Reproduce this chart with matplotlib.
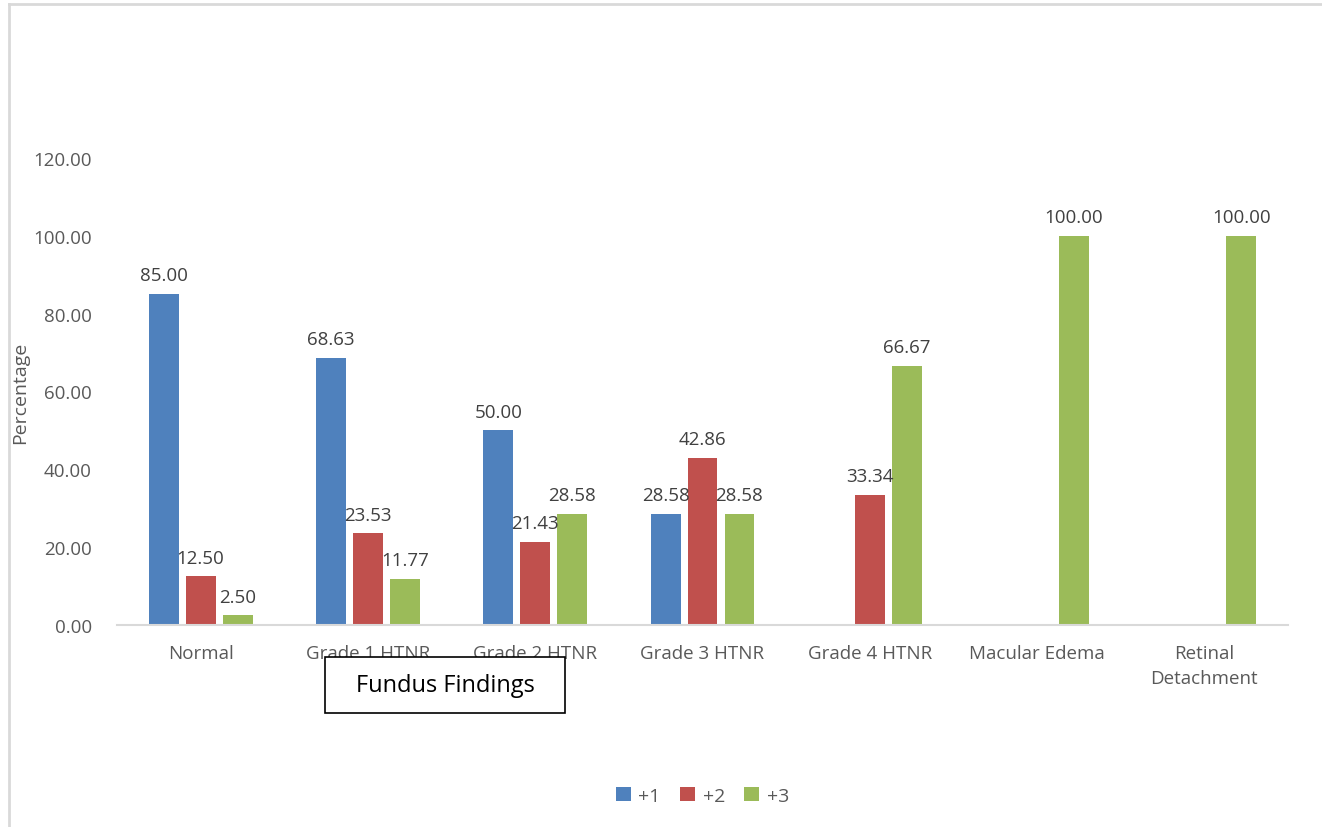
import numpy as np
import matplotlib.pyplot as plt
from matplotlib.lines import Line2D
from matplotlib.patches import Rectangle

plt.rcParams['font.family'] = ['Open Sans', 'DejaVu Sans']

categories = ['Normal', 'Grade 1 HTNR', 'Grade 2 HTNR', 'Grade 3 HTNR',
              'Grade 4 HTNR', 'Macular Edema', 'Retinal\nDetachment']
series_names = ['+1', '+2', '+3']
plus1 = [85.00, 68.63, 50.00, 28.58, 0.0, 0.0, 0.0]
plus2 = [12.50, 23.53, 21.43, 42.86, 33.34, 0.0, 0.0]
plus3 = [2.50, 11.77, 28.58, 28.58, 66.67, 100.00, 100.00]
colors = ['#4f81bd', '#c0504d', '#9bbb59']

fig = plt.figure(figsize=(13.22, 8.28), dpi=100)
ax = fig.add_axes([0.0885, 0.244, 0.8858, 0.564])

x = np.arange(len(categories))
width = 0.179
step = 0.221
for i, (vals, name, c) in enumerate(zip([plus1, plus2, plus3], series_names, colors)):
    pos = x + (i - 1) * step
    bars = ax.bar(pos, vals, width, color=c, label=name)
    for b, v in zip(bars, vals):
        if v > 0:
            ax.annotate(f'{v:.2f}', (b.get_x() + b.get_width() / 2, v),
                        xytext=(0, 7), textcoords='offset points',
                        ha='center', va='bottom', fontsize=13.5, color='#404040')

ax.set_xlim(-0.5, len(categories) - 0.5)
ax.set_ylim(0, 120)
ax.set_yticks(np.arange(0, 121, 20))
ax.set_yticklabels([f'{t:.2f}' for t in np.arange(0, 121, 20)])
ax.set_xticks(x)
ax.set_xticklabels(categories, linespacing=1.45)
ax.tick_params(axis='both', length=0, labelsize=13.5, labelcolor='#595959')
ax.tick_params(axis='y', pad=18)
ax.tick_params(axis='x', pad=14)
for s in ['top', 'right', 'left']:
    ax.spines[s].set_visible(False)
ax.spines['bottom'].set_color('#d9d9d9')
ax.spines['bottom'].set_linewidth(1.5)

ax.set_ylabel('Percentage', fontsize=14, color='#595959')
ax.yaxis.set_label_coords(-0.075, 0.5)

# axis title box that sits over the tick labels
fig.add_artist(Rectangle((0.2458, 0.1377), 0.1815, 0.0676, transform=fig.transFigure,
                         fc='white', ec='black', lw=1.2, zorder=5))
fig.text(0.3366, 0.1715, 'Fundus Findings', fontsize=17, color='black',
         ha='center', va='center', zorder=6)

ax.legend(loc='center', bbox_to_anchor=(0.5, -0.366), ncol=3, frameon=False,
          fontsize=14, handlelength=0.75, handleheight=0.75, handletextpad=0.4,
          columnspacing=1.0, labelcolor='#595959')

# outer chart frame
fig.add_artist(Line2D([0.0068, 0.0068], [0.0, 0.994], color='#d9d9d9', lw=2,
                      transform=fig.transFigure))
fig.add_artist(Line2D([0.0068, 1.0], [0.994, 0.994], color='#d9d9d9', lw=2,
                      transform=fig.transFigure))

plt.savefig('out.png', dpi=100)
